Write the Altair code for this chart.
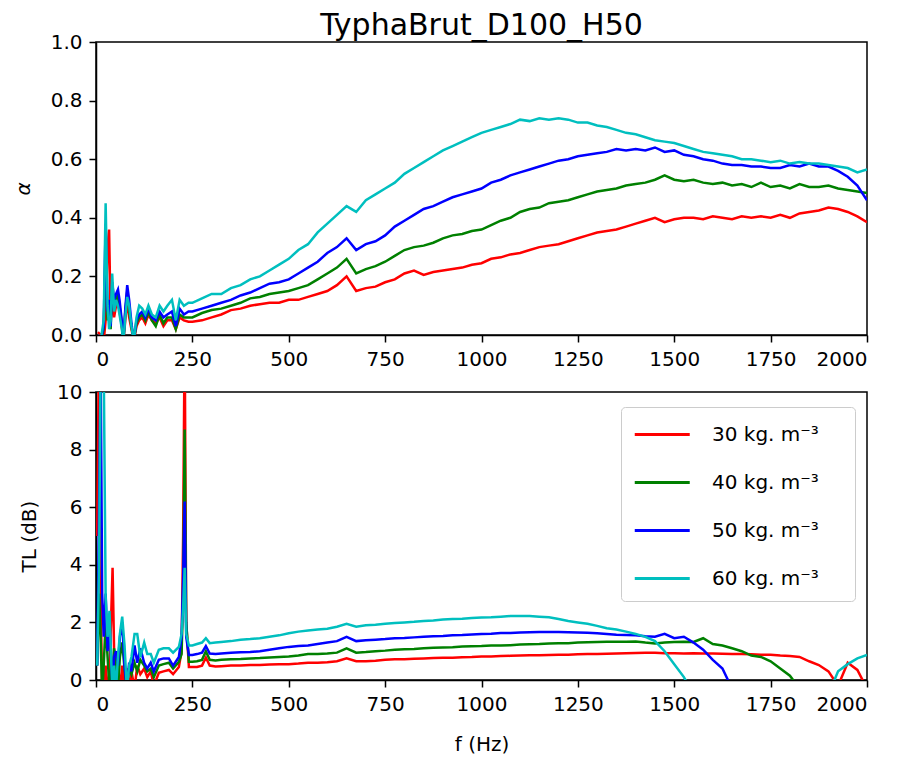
import altair as alt
import pandas as pd

series_names = ["30 kg. m⁻³", "40 kg. m⁻³", "50 kg. m⁻³", "60 kg. m⁻³"]
series_colors = ["#ff0000", "#008000", "#0000ff", "#00bfbf"]
x_ticks = [0, 250, 500, 750, 1000, 1250, 1500, 1750, 2000]

# ---------------- absorption coefficient (top panel) ----------------
freq_alpha = [5, 12, 20, 25, 30, 34, 38, 42, 47, 52, 57, 61, 66, 71, 76, 81, 86, 92, 98, 105,
              112, 120, 128, 136, 145, 155, 165, 175, 185, 197, 207, 217, 228, 240,
              250, 275, 300, 325, 350, 375, 400, 425, 450, 475,
              500, 525, 550, 575, 600, 625, 650, 675, 700, 725,
              750, 775, 800, 825, 850, 875, 900, 925, 950, 975,
              1000, 1025, 1050, 1075, 1100, 1125, 1150, 1175, 1200, 1225,
              1250, 1275, 1300, 1325, 1350, 1375, 1400, 1425, 1450, 1475,
              1500, 1525, 1550, 1575, 1600, 1625, 1650, 1675, 1700, 1725,
              1750, 1775, 1800, 1825, 1850, 1875, 1900, 1925, 1950, 1975,
              2000]

alpha_30 = [0.01, 0.0, -0.02, 0.05, 0.30, 0.36, 0.05, 0.12, 0.06, 0.10,
            0.12, 0.08, 0.04, -0.02, 0.05, 0.12, 0.06, 0.02, -0.02, 0.03,
            0.05, 0.06, 0.04, 0.07, 0.05, 0.04, 0.06, 0.03, 0.05, 0.05,
            0.02, 0.06, 0.05, 0.045,
            0.045, 0.05, 0.06, 0.07, 0.085, 0.09, 0.10, 0.105, 0.11, 0.11,
            0.12, 0.12, 0.13, 0.14, 0.15, 0.17, 0.20, 0.15, 0.16, 0.165,
            0.18, 0.19, 0.21, 0.22, 0.205, 0.215, 0.22, 0.225, 0.23, 0.24,
            0.245, 0.26, 0.265, 0.275, 0.28, 0.29, 0.30, 0.305, 0.31, 0.32,
            0.33, 0.34, 0.35, 0.355, 0.36, 0.37, 0.38, 0.39, 0.40, 0.385,
            0.395, 0.40, 0.40, 0.395, 0.405, 0.40, 0.395, 0.405, 0.40, 0.405,
            0.40, 0.41, 0.40, 0.415, 0.42, 0.425, 0.435, 0.43, 0.42, 0.405,
            0.385]

alpha_40 = [0.0, -0.02, 0.02, 0.30, 0.05, 0.10, 0.02, 0.16, 0.10, 0.12,
            0.14, 0.10, 0.05, -0.02, 0.08, 0.15, 0.08, 0.03, -0.02, 0.04,
            0.06, 0.07, 0.05, 0.08, 0.05, 0.03, 0.07, 0.04, 0.06, 0.06,
            0.02, 0.07, 0.06, 0.06,
            0.06, 0.075, 0.085, 0.09, 0.10, 0.11, 0.125, 0.13, 0.14, 0.145,
            0.15, 0.16, 0.17, 0.19, 0.21, 0.23, 0.26, 0.21, 0.225, 0.235,
            0.25, 0.27, 0.29, 0.30, 0.305, 0.315, 0.33, 0.34, 0.345, 0.355,
            0.36, 0.375, 0.39, 0.40, 0.42, 0.43, 0.435, 0.45, 0.455, 0.46,
            0.47, 0.48, 0.49, 0.495, 0.50, 0.51, 0.515, 0.52, 0.53, 0.545,
            0.53, 0.525, 0.53, 0.52, 0.515, 0.52, 0.51, 0.515, 0.505, 0.52,
            0.505, 0.51, 0.50, 0.515, 0.505, 0.505, 0.51, 0.50, 0.495, 0.49,
            0.485]

alpha_50 = [0.0, -0.02, 0.03, 0.38, 0.08, 0.12, 0.03, 0.18, 0.12, 0.14,
            0.155, 0.12, 0.06, -0.02, 0.09, 0.17, 0.12, 0.04, -0.02, 0.05,
            0.07, 0.08, 0.06, 0.09, 0.06, 0.05, 0.08, 0.06, 0.07, 0.08,
            0.03, 0.09, 0.07, 0.08,
            0.08, 0.09, 0.10, 0.11, 0.12, 0.135, 0.145, 0.16, 0.175, 0.18,
            0.19, 0.21, 0.23, 0.25, 0.28, 0.30, 0.33, 0.29, 0.31, 0.32,
            0.34, 0.37, 0.39, 0.41, 0.43, 0.44, 0.455, 0.47, 0.48, 0.49,
            0.50, 0.52, 0.53, 0.545, 0.555, 0.565, 0.575, 0.585, 0.595, 0.60,
            0.61, 0.615, 0.62, 0.625, 0.635, 0.63, 0.635, 0.63, 0.64, 0.625,
            0.63, 0.615, 0.61, 0.60, 0.595, 0.585, 0.58, 0.58, 0.575, 0.575,
            0.57, 0.57, 0.58, 0.575, 0.585, 0.575, 0.575, 0.56, 0.54, 0.51,
            0.46]

alpha_60 = [0.0, -0.02, 0.05, 0.45, 0.10, 0.02, 0.05, 0.21, 0.08, 0.12,
            0.10, 0.07, 0.03, -0.02, 0.06, 0.13, 0.10, 0.03, -0.02, 0.06,
            0.10, 0.09, 0.07, 0.10, 0.07, 0.06, 0.10, 0.08, 0.10, 0.12,
            0.05, 0.12, 0.10, 0.11,
            0.11, 0.125, 0.14, 0.14, 0.16, 0.17, 0.19, 0.20, 0.22, 0.24,
            0.26, 0.29, 0.31, 0.35, 0.38, 0.41, 0.44, 0.42, 0.46, 0.48,
            0.50, 0.52, 0.55, 0.57, 0.59, 0.61, 0.63, 0.645, 0.66, 0.675,
            0.69, 0.70, 0.71, 0.72, 0.735, 0.73, 0.74, 0.735, 0.74, 0.735,
            0.725, 0.725, 0.715, 0.71, 0.70, 0.69, 0.685, 0.675, 0.665, 0.66,
            0.655, 0.645, 0.635, 0.625, 0.62, 0.615, 0.61, 0.60, 0.60, 0.595,
            0.59, 0.595, 0.585, 0.59, 0.585, 0.585, 0.58, 0.575, 0.57, 0.555,
            0.565]

# ---------------- transmission loss (bottom panel) ----------------
freq_tl = [3, 8, 12, 16, 20, 25, 30, 35, 40, 43, 47, 52, 57, 62, 68, 74, 80, 86, 92, 100,
           107, 115, 125, 133, 142, 150, 163, 175, 189, 200, 215, 222, 226, 230, 234, 241,
           250, 262, 275, 285, 295, 310, 325,
           350, 375, 400, 425, 450, 475, 500, 525, 550, 575,
           600, 625, 650, 675, 700, 725, 750, 775, 800, 825,
           850, 875, 900, 925, 950, 975, 1000, 1025, 1050, 1075,
           1100, 1125, 1150, 1175, 1200, 1225, 1250, 1275, 1300, 1325,
           1350, 1375, 1400, 1425, 1450, 1475, 1500, 1525, 1550, 1575,
           1600, 1625, 1650, 1675, 1700, 1725, 1750, 1775, 1800, 1825,
           1850, 1875, 1900, 1925, 1950, 1975, 2000]

tl_30 = [5.0, 12.0, 3.0, -0.5, -0.5, 0.5, -0.5, 0.3, 2.5, 3.9,
         1.0, -0.5, 0.8, -0.5, 0.5, -0.3, 0.4, -0.3, 0.3, -0.3,
         0.5, 0.2, 0.4, 0.1, 0.3, -0.2, 0.25, 0.3, 0.35, 0.2,
         0.45, 1.0, 5.0, 12.0, 2.0, 0.45,
         0.45, 0.45, 0.5, 0.78, 0.5, 0.47, 0.48,
         0.5, 0.5, 0.52, 0.52, 0.54, 0.55, 0.55, 0.57, 0.6, 0.6,
         0.62, 0.65, 0.75, 0.65, 0.65, 0.67, 0.7, 0.72, 0.72, 0.74,
         0.75, 0.76, 0.77, 0.77, 0.79, 0.8, 0.82, 0.82, 0.83, 0.84,
         0.85, 0.86, 0.86, 0.87, 0.88, 0.88, 0.89, 0.9, 0.9, 0.91,
         0.92, 0.93, 0.94, 0.95, 0.95, 0.93, 0.93, 0.92, 0.93, 0.92,
         0.92, 0.91, 0.9, 0.9, 0.89, 0.88, 0.88, 0.85, 0.83, 0.8,
         0.65, 0.52, 0.3, -0.2, 0.6, 0.35, -0.3]

tl_40 = [0.5, 3.0, 1.5, -0.5, 0.5, 2.0, 0.8, -0.3, 0.5, 0.3,
         1.1, 0.5, -0.3, 0.8, 1.3, 0.4, -0.3, 0.4, 0.2, 0.6,
         0.3, 0.7, 0.5, 0.3, 0.4, 0.1, 0.5, 0.55, 0.6, 0.4,
         0.63, 0.9, 3.0, 8.7, 2.0, 0.63,
         0.63, 0.65, 0.7, 1.0, 0.7, 0.68, 0.7,
         0.72, 0.73, 0.75, 0.76, 0.78, 0.8, 0.82, 0.85, 0.9, 0.9,
         0.92, 0.95, 1.1, 0.95, 0.97, 1.0, 1.02, 1.05, 1.07, 1.08,
         1.1, 1.12, 1.13, 1.14, 1.16, 1.17, 1.18, 1.2, 1.2, 1.21,
         1.23, 1.24, 1.25, 1.27, 1.28, 1.28, 1.3, 1.31, 1.32, 1.33,
         1.33, 1.33, 1.34, 1.3, 1.27, 1.3, 1.32, 1.33, 1.32, 1.45,
         1.25, 1.2, 1.1, 1.0, 0.85, 0.8, 0.65, 0.4, 0.15, -0.3,
         -0.5, -0.5, -0.5, -0.5, -0.5, -0.5, -0.5]

tl_50 = [0.5, 6.0, 11.0, 3.0, 1.5, 3.0, 1.0, 2.0, 0.5, -0.3,
         0.8, 1.0, 0.5, 1.5, 2.0, 0.5, -0.3, 0.6, 0.3, 1.2,
         0.6, 1.1, 0.6, 0.4, 0.6, 0.3, 0.7, 0.75, 0.75, 0.5,
         0.8, 1.5, 3.5, 6.2, 1.5, 0.87,
         0.87, 0.9, 0.95, 1.18, 0.92, 0.9, 0.92,
         0.95, 0.96, 0.97, 1.0, 1.05, 1.1, 1.15, 1.18, 1.2, 1.25,
         1.3, 1.35, 1.5, 1.35, 1.38, 1.4, 1.42, 1.45, 1.46, 1.48,
         1.5, 1.52, 1.53, 1.55, 1.56, 1.58, 1.6, 1.61, 1.63, 1.63,
         1.65, 1.66, 1.67, 1.67, 1.67, 1.66, 1.65, 1.64, 1.62, 1.6,
         1.57, 1.56, 1.55, 1.52, 1.5, 1.6, 1.45, 1.5, 1.3, 1.05,
         0.7, 0.4, -0.3, -0.5, -0.5, -0.5, -0.5, -0.5, -0.5, -0.5,
         -0.5, -0.5, -0.5, -0.5, -0.5, -0.5, -0.5]

tl_60 = [0.5, 4.0, 11.0, 11.0, 11.0, 2.9, 1.5, 2.4, 0.5, -0.3,
         0.5, -0.3, 0.8, 1.6, 2.2, 1.2, -0.3, 0.5, 0.8, 1.6,
         1.6, 0.8, 1.3, 0.9, 0.9, 0.6, 1.05, 1.1, 1.1, 0.95,
         1.15, 1.6, 2.5, 3.9, 1.6, 1.2,
         1.2, 1.25, 1.3, 1.45, 1.28, 1.3, 1.32,
         1.35, 1.4, 1.42, 1.45, 1.5, 1.55, 1.62, 1.68, 1.72, 1.75,
         1.78, 1.85, 1.95, 1.85, 1.9, 1.92, 1.95, 1.98, 2.0, 2.02,
         2.05, 2.07, 2.1, 2.12, 2.13, 2.15, 2.17, 2.18, 2.2, 2.22,
         2.22, 2.22, 2.2, 2.18, 2.12, 2.05, 2.0, 1.95, 1.88, 1.8,
         1.75, 1.68, 1.6, 1.5, 1.35, 1.0, 0.55, 0.1, -0.5, -0.5,
         -0.5, -0.5, -0.5, -0.5, -0.5, -0.5, -0.5, -0.5, -0.5, -0.5,
         -0.5, -0.5, -0.5, 0.3, 0.55, 0.75, 0.87]


def long_table(freqs, series):
    rows = []
    for name, vals in zip(series_names, series):
        for i, (f, v) in enumerate(zip(freqs, vals)):
            rows.append({"f": f, "v": v, "s": name, "i": i})
    return pd.DataFrame(rows)


df_alpha = long_table(freq_alpha, [alpha_30, alpha_40, alpha_50, alpha_60])
df_tl = long_table(freq_tl, [tl_30, tl_40, tl_50, tl_60])

W = 771

x_top = alt.X("f:Q", scale=alt.Scale(domain=[0, 2000], nice=False, zero=False),
              axis=alt.Axis(values=x_ticks, title=None, format="d"))
x_bot = alt.X("f:Q", scale=alt.Scale(domain=[0, 2000], nice=False, zero=False),
              axis=alt.Axis(values=x_ticks, title="f (Hz)", format="d", titlePadding=20))

color_scale = alt.Scale(domain=series_names, range=series_colors)

top = alt.Chart(df_alpha).mark_line(clip=True, strokeWidth=2.5).encode(
    x=x_top,
    y=alt.Y("v:Q", scale=alt.Scale(domain=[0, 1], nice=False),
            axis=alt.Axis(values=[0, 0.2, 0.4, 0.6, 0.8, 1.0], format=".1f",
                          title="α", titleFontStyle="italic")),
    color=alt.Color("s:N", scale=color_scale, legend=None),
    order="i:Q",
).properties(
    width=W, height=293,
    title=alt.TitleParams("TyphaBrut_D100_H50", fontSize=30, font="DejaVu Sans",
                          fontWeight="normal", anchor="middle", offset=-9, color="black"),
)

bottom = alt.Chart(df_tl).mark_line(clip=True, strokeWidth=2.5).encode(
    x=x_bot,
    y=alt.Y("v:Q", scale=alt.Scale(domain=[0, 10], nice=False),
            axis=alt.Axis(values=[0, 2, 4, 6, 8, 10], format="d", title="TL (dB)")),
    color=alt.Color("s:N", scale=color_scale,
                    legend=alt.Legend(title=None, orient="none", legendX=525, legendY=15,
                                      symbolType="M-1,0H3", symbolStrokeWidth=3,
                                      symbolSize=756, labelFontSize=20,
                                      labelFont="DejaVu Sans", labelColor="black",
                                      labelExpr="datum.label + '\u2002\u2002\u2009\u200b'",
                                      strokeColor="#cccccc", fillColor="white",
                                      cornerRadius=4, padding=12, rowPadding=22,
                                      labelOffset=48)),
    order="i:Q",
).properties(width=W, height=288)

chart = alt.vconcat(
    top, bottom, spacing=11, background="white",
    padding={"left": 4, "top": 2, "right": 5, "bottom": 5},
).resolve_scale(color="independent").resolve_legend(
    color="independent"
).configure_axis(
    labelFontSize=20, titleFontSize=20, labelFont="DejaVu Sans", titleFont="DejaVu Sans",
    labelColor="black", titleColor="black", tickColor="black", domainColor="black",
    tickSize=7, tickWidth=1.5, domainWidth=1.5, grid=False, titleFontWeight="normal",
    labelPadding=7, titlePadding=17,
).configure_view(stroke="black", strokeWidth=1.5)

chart.save("out.html", embed_options={"renderer": "svg", "actions": False})
